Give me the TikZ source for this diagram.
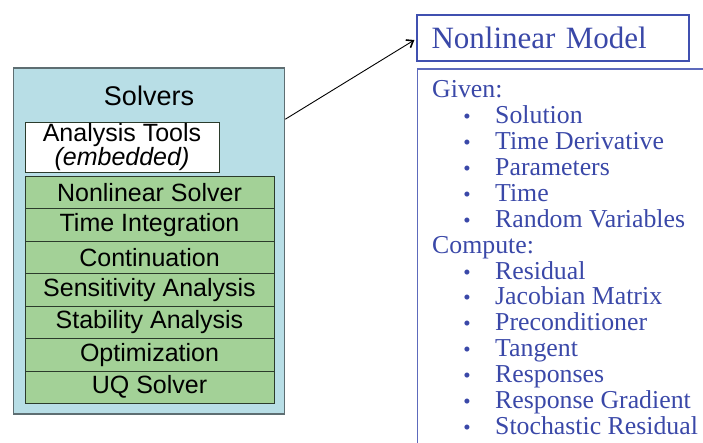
\documentclass[tikz,border=0pt]{standalone}
\usepackage{fontspec}
\setmainfont{Liberation Serif}
\setsansfont{Liberation Sans}
\usepackage{tikz}
\usetikzlibrary{positioning,arrows.meta}

\definecolor{solverblue}{HTML}{B8DEE6}
\definecolor{rowgreen}{HTML}{A3D197}
\definecolor{boxgray}{HTML}{5E6E72}
\definecolor{rowline}{HTML}{2B3B2B}
\definecolor{modelblue}{HTML}{3A48A8}
\definecolor{frameblue}{HTML}{4050B0}

\begin{document}
\begin{tikzpicture}[x=1pt,y=-1pt,
        solverbox/.style={
          draw=boxgray,fill=solverblue,line width=1.5pt,inner sep=0pt,
          minimum width=271pt,minimum height=346pt
        },
        toolbox/.style={
          draw=rowline,fill=white,line width=1pt,inner sep=0pt,
          minimum width=194pt,minimum height=50pt,align=center,
          font=\sffamily\fontsize{25}{23}\selectfont
        },
        toolrow/.style={
          draw=rowline,fill=rowgreen,line width=1pt,inner sep=0pt,
          minimum width=249pt,minimum height=32.5pt,
          font=\sffamily\fontsize{25}{25}\selectfont
        },
        modelbox/.style={
          draw=frameblue,line width=2.3pt,inner xsep=14.5pt,inner ysep=0pt,
          text width=243pt,minimum height=46pt,align=left,text=modelblue,
          font=\fontsize{31}{31}\selectfont
        },
        listtext/.style={
          anchor=base west,inner sep=0pt,text=modelblue,
          font=\fontsize{25.8}{25.8}\selectfont
        },
        listdot/.style={
          anchor=base,inner sep=0pt,text=modelblue,
          font=\fontsize{21}{21}\selectfont
        }
      ]
      \useasboundingbox (0,0) rectangle (703,442);
      \clip (0,0) rectangle (703,442);
      % solvers side
      \node (s) [solverbox] at (149,241) {};
      \node (sl) [anchor=base,inner sep=0pt,font=\sffamily\fontsize{27}{27}\selectfont]
        at (149,105) {Solvers};
      \node (at) [toolbox] at (122,147) {Analysis Tools\\\textit{(embedded)}};
      \foreach \txt [count=\i from 0] in {Nonlinear Solver,Time Integration,
          Continuation,Sensitivity Analysis,Stability Analysis,Optimization,UQ Solver}
        \node (r\i) [toolrow] at (149.5,{192.25+32.5*\i}) {\txt};
      % model side
      \node (m) [modelbox] at (553,38) {Nonlinear Model};
      \draw [draw=frameblue!85!white,line width=1.5pt] (417.5,69) rectangle (730,470);
      \draw [-{Straight Barb[length=6pt,width=9pt,line width=1.6pt]},line width=0.9pt]
        ([yshift=-52pt]s.north east) -- ([xshift=-1.5pt,yshift=-2pt]m.west);
      \node (gv) [listtext] at (432,97.7) {Given:};
      \foreach \txt [count=\i] in {Solution,Time Derivative,Parameters,Time,Random Variables}{
        \node (gd\i) [listdot] at (467,{97.7+25.9*\i}) {\textbullet};
        \node (g\i) [listtext] at (495,{97.7+25.9*\i}) {\txt};
      }
      \node (cp) [listtext] at (432,{97.7+25.9*6}) {Compute:};
      \foreach \txt [count=\i] in {Residual,Jacobian Matrix,Preconditioner,Tangent,
          Responses,Response Gradient,Stochastic Residual}{
        \node (cd\i) [listdot] at (467,{97.7+25.9*(\i+6)}) {\textbullet};
        \node (c\i) [listtext] at (495,{97.7+25.9*(\i+6)}) {\txt};
      }
    \end{tikzpicture}
\end{document}
